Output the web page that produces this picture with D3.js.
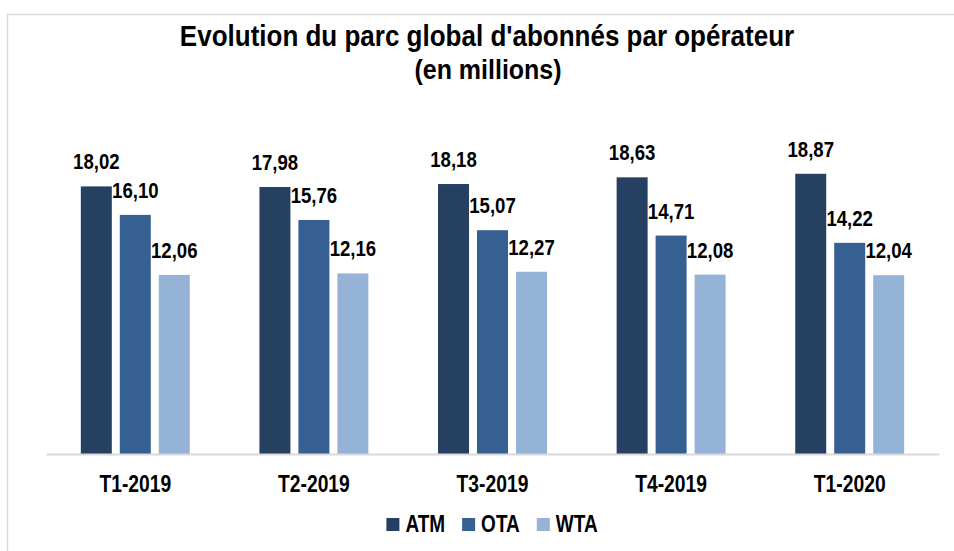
<!DOCTYPE html>
<html>
<head>
<meta charset="utf-8">
<script src="https://cdn.jsdelivr.net/npm/d3@7"></script>
<style>
  body { margin: 0; background: #fff; }
  text { font-family: "Liberation Sans", Arial, sans-serif; font-weight: bold; fill: #000; }
</style>
</head>
<body>
<svg id="chart"></svg>
<script>
// data
var periods = ["T1-2019", "T2-2019", "T3-2019", "T4-2019", "T1-2020"];
var operators = ["ATM", "OTA", "WTA"];
var atm = [18.02, 17.98, 18.18, 18.63, 18.87];
var ota = [16.10, 15.76, 15.07, 14.71, 14.22];
var wta = [12.06, 12.16, 12.27, 12.08, 12.04];
var yTicks = [0, 20];
var colors = ["#254061", "#366092", "#95b3d7"];

var width = 954, height = 551;
var svg = d3.select("#chart").attr("width", width).attr("height", height);

// outer frame
svg.append("rect")
    .attr("x", 7.5).attr("y", 14.5)
    .attr("width", 980).attr("height", 600)
    .attr("fill", "none").attr("stroke", "#d9d9d9").attr("stroke-width", 1.5);

var stretch = 1.23; // text in the picture is drawn a bit taller than wide

// title
var title = svg.append("g").attr("transform", "translate(487,0)");
title.append("text")
    .attr("text-anchor", "middle")
    .attr("font-size", "26px")
    .attr("transform", "translate(0,46) scale(1,1.1)")
    .text("Evolution du parc global d'abonnés par opérateur");
title.append("text")
    .attr("text-anchor", "middle")
    .attr("font-size", "25px")
    .attr("transform", "translate(1,79) scale(1,1.1)")
    .text("(en millions)");

var values = [atm, ota, wta];
var rows = periods.map(function (p, i) {
    return { period: p, vals: operators.map(function (op, j) { return { op: op, v: values[j][i], k: j }; }) };
});

var x0 = d3.scaleBand().domain(periods).range([46, 939]).paddingInner(0.39).paddingOuter(0.195);
var x1 = d3.scaleBand().domain(operators).range([0, x0.bandwidth()]).paddingInner(0.205);
var y = d3.scaleLinear().domain(d3.extent(yTicks)).range([454, 157]);

var groups = svg.selectAll("g.grp").data(rows).enter().append("g")
    .attr("class", "grp")
    .attr("transform", function (d) { return "translate(" + x0(d.period) + ",0)"; });

groups.selectAll("rect").data(function (d) { return d.vals; }).enter().append("rect")
    .attr("x", function (d) { return x1(d.op); })
    .attr("y", function (d) { return y(d.v); })
    .attr("width", x1.bandwidth())
    .attr("height", function (d) { return y(0) - y(d.v); })
    .attr("fill", function (d) { return colors[d.k]; });

groups.selectAll("text").data(function (d) { return d.vals; }).enter().append("text")
    .attr("text-anchor", "middle")
    .attr("font-size", "18.6px")
    .attr("transform", function (d) {
        return "translate(" + (x1(d.op) + x1.bandwidth() / 2) + "," + (y(d.v) - 17) + ") scale(1," + stretch + ")";
    })
    .text(function (d) { return d.v.toFixed(2).replace(".", ","); });

// x axis
var xAxis = svg.append("g").attr("transform", "translate(0,454)")
    .call(d3.axisBottom(x0).tickSize(0).tickPadding(0));
xAxis.select(".domain").attr("stroke", "#d9d9d9").attr("stroke-width", 2);
xAxis.selectAll(".tick text")
    .attr("font-size", "19.3px")
    .attr("dy", null)
    .attr("y", null)
    .attr("transform", "translate(0,38) scale(1,1.25)");

// legend
var legend = svg.append("g");
var items = legend.selectAll("g").data(operators).enter().append("g");
items.append("rect")
    .attr("width", 13).attr("height", 13)
    .attr("y", 518)
    .attr("fill", function (d, i) { return colors[i]; });
items.append("text")
    .attr("font-size", "19px")
    .attr("transform", "translate(19,532) scale(1," + stretch + ")")
    .text(function (d) { return d; });
var pos = 0, offsets = [];
items.each(function () {
    offsets.push(pos);
    pos += 19 + d3.select(this).select("text").node().getComputedTextLength() + 17;
});
var total = pos - 17;
var start = 492 - total / 2;
items.attr("transform", function (d, i) { return "translate(" + (start + offsets[i]) + ",0)"; });
</script>
</body>
</html>
